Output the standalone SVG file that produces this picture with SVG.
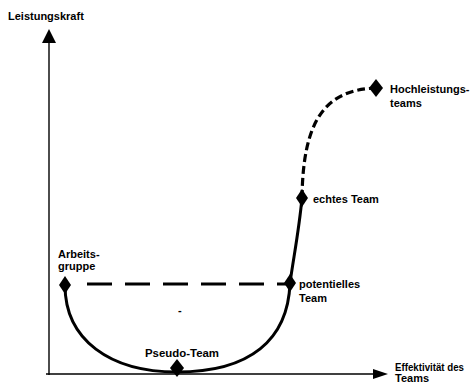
<svg xmlns="http://www.w3.org/2000/svg" width="473" height="385" viewBox="0 0 473 385">
<style>
text{font-family:"Liberation Sans",Arial,sans-serif;font-size:11px;font-weight:bold;fill:#000}
.axis{stroke:#000;stroke-width:1.4;fill:none}
.curve{stroke:#000;stroke-width:3;fill:none}
.dash1{stroke:#000;stroke-width:3;fill:none;stroke-dasharray:25 13}
.dash2{stroke:#000;stroke-width:3.2;fill:none;stroke-dasharray:8 4}
.dia{fill:#000}
</style>
<rect width="473" height="385" fill="#fff"/>
<g id="axes">
<line class="axis" x1="49" y1="375" x2="49" y2="42"/>
<polygon points="49,29 42,43 56,43" fill="#000"/>
<line class="axis" x1="46" y1="374" x2="374" y2="374"/>
<polygon points="388,374 373,369 373,379" fill="#000"/>
<text x="8" y="20">Leistungskraft</text>
<text x="395" y="371" textLength="69" lengthAdjust="spacingAndGlyphs">Effektivität des</text>
<text x="395" y="382">Teams</text>
</g>
<g id="connectors">
<path class="curve" d="M65,285 C65,340 110,372 177,372 C250,372 288,340 290,283 C294,255 299,230 302,198"/>
<path class="dash1" d="M87,284 H290"/>
<path class="dash2" d="M302,198 C303,120 325,90 376,88"/>
</g>
<g id="arbeitsgruppe">
<polygon class="dia" points="65,276 71,285 65,294 59,285"/>
<text x="58" y="258">Arbeits-</text>
<text x="58" y="270">gruppe</text>
</g>
<g id="pseudo-team">
<polygon class="dia" points="177,359 184,368 177,377 170,368"/>
<text x="145" y="357" textLength="74" lengthAdjust="spacingAndGlyphs">Pseudo-Team</text>
</g>
<g id="potentielles-team">
<polygon class="dia" points="290,274 296,283 290,292 284,283"/>
<text x="299" y="288">potentielles</text>
<text x="299" y="302">Team</text>
</g>
<g id="echtes-team">
<polygon class="dia" points="302,189 308,198 302,207 296,198"/>
<text x="313" y="203">echtes Team</text>
</g>
<g id="hochleistungsteams">
<polygon class="dia" points="376,79 383,88 376,97 369,88"/>
<text x="390" y="93">Hochleistungs-</text>
<text x="390" y="107">teams</text>
</g>
<text x="178" y="314">-</text>
</svg>
